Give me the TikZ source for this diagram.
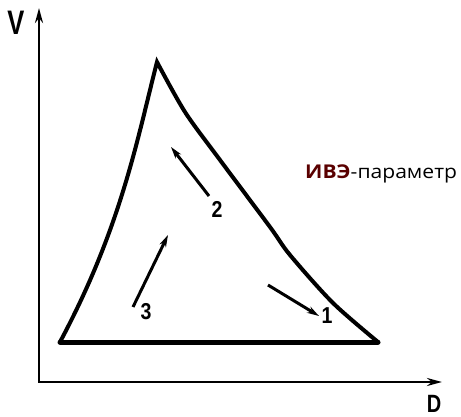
\documentclass[tikz,border=0pt]{standalone}
\usepackage{fontspec}
\setmainfont{Open Sans}
\newfontfamily\lblfont{Liberation Sans}
\usetikzlibrary{arrows.meta}
\definecolor{ivered}{RGB}{90,0,0}
\tikzset{
  axisline/.style={line width=2.8pt,{Stealth[length=15pt,width=8pt]}-{Stealth[length=15pt,width=8pt]}},
  triline/.style={line width=4pt,line cap=round,line join=miter},
  bottomline/.style={line width=5pt,line cap=round},
  flowarrow/.style={line width=3pt,-{Stealth[length=12pt,width=7pt]}},
  numlbl/.style={font=\lblfont\bfseries\fontsize{23}{23}\selectfont,inner sep=0pt},
}
\begin{document}
\begin{tikzpicture}[x=1pt,y=-1pt]
\useasboundingbox (0,0) rectangle (461,417);
% axes
\coordinate (Ytip) at (39,8);
\coordinate (O) at (39,382);
\coordinate (Xtip) at (442,382);
\draw[axisline] (Ytip) -- (O) -- (Xtip);
\node[font=\lblfont\bfseries\fontsize{34}{34}\selectfont,inner sep=0pt] (V) at (16,23) {\scalebox{0.75}[1]{V}};
\node[font=\lblfont\bfseries\fontsize{25}{25}\selectfont,inner sep=0pt] (D) at (434,404) {\scalebox{0.8}[1]{D}};
% triangle
\coordinate (A) at (60,342);
\coordinate (B) at (157,62);
\coordinate (C) at (378,342);
\draw[triline] (A) .. controls (121,228) and (137,140) .. (B)
  -- plot[smooth,tension=0.5] coordinates {(157,62) (185,112) (220,160) (270,227) (290,255) (333,303) (378,342)};
\draw[bottomline] (A) -- (C);
% flow arrows
\coordinate (t2) at (209,196);
\coordinate (h2) at (171,147);
\coordinate (t3) at (133,307);
\coordinate (h3) at (168,235);
\coordinate (t1) at (268,285);
\coordinate (h1) at (319,316);
\draw[flowarrow] (t2) -- (h2);
\draw[flowarrow] (t3) -- (h3);
\draw[flowarrow] (t1) -- (h1);
\node[numlbl] (n2) at (217,209) {\scalebox{0.85}[1]{2}};
\node[numlbl] (n3) at (146,312) {\scalebox{0.85}[1]{3}};
\node[numlbl] (n1) at (327,316) {\scalebox{0.85}[1]{1}};
% text
\node[anchor=base west,inner sep=0pt,font=\fontsize{19}{19}\selectfont] (lbl) at (305,179) {\scalebox{1.11}[1]{\textcolor{ivered}{\bfseries ИВЭ}-параметр}};
\end{tikzpicture}
\end{document}
